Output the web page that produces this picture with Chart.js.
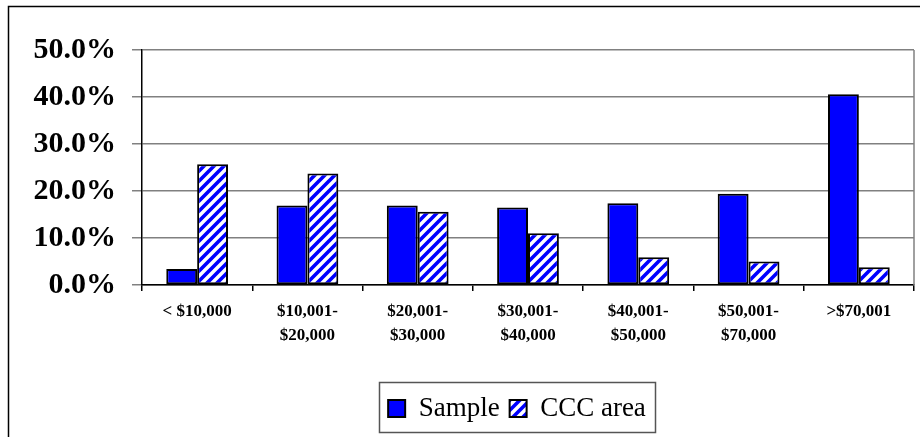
<!DOCTYPE html>
<html>
<head>
<meta charset="utf-8">
<script src="https://cdn.jsdelivr.net/npm/chart.js@4.4.1/dist/chart.umd.min.js"></script>
<style>
  html, body { margin: 0; padding: 0; background: #fff; }
  #wrap { position: relative; width: 920px; height: 437px; }
</style>
</head>
<body>
<div id="wrap"><canvas id="chart"></canvas></div>
<script>
// Income brackets (x axis)
const categories = [
    '< $10,000',
    ['$10,001-', '$20,000'],
    ['$20,001-', '$30,000'],
    ['$30,001-', '$40,000'],
    ['$40,001-', '$50,000'],
    ['$50,001-', '$70,000'],
    '>$70,001'
];
const sampleValues = [3.4, 16.9, 16.9, 16.5, 17.4, 19.4, 40.6];
const cccValues = [25.7, 23.7, 15.6, 11.0, 5.9, 5.0, 3.8];
const seriesNames = ['Sample', 'CCC area'];
const yTicks = [0, 10, 20, 30, 40, 50];

Chart.defaults.font.family = '"Liberation Serif", "Times New Roman", serif';
Chart.defaults.color = '#000';

// diagonal blue hatch for the CCC series
function makeHatch() {
    const n = 10;
    const c = document.createElement('canvas');
    c.width = n; c.height = n;
    const g = c.getContext('2d');
    g.fillStyle = '#fff';
    g.fillRect(0, 0, n, n);
    g.strokeStyle = '#0000ff';
    g.lineWidth = 3.6;
    g.beginPath();
    g.moveTo(-n / 2, n / 2); g.lineTo(n / 2, -n / 2);
    g.moveTo(0, n); g.lineTo(n, 0);
    g.moveTo(n / 2, n * 1.5); g.lineTo(n * 1.5, n / 2);
    g.stroke();
    return g.createPattern(c, 'repeat');
}

const legendShift = 11;

// outer frame, right edge of plot, box around legend
const framePlugin = {
    id: 'frame',
    afterLayout(chart) {
        // legend sits a little left of the plot centre in the original
        const lg = chart.legend;
        lg.left -= legendShift;
        lg.right -= legendShift;
        (lg.legendHitBoxes || []).forEach(h => { h.left -= legendShift; });
    },
    beforeDraw(chart) {
        const ctx = chart.ctx;
        ctx.save();
        ctx.fillStyle = '#fff';
        ctx.fillRect(0, 0, chart.width, chart.height);
        ctx.strokeStyle = '#000';
        ctx.lineWidth = 1.5;
        ctx.beginPath();
        ctx.moveTo(8.5, chart.height);
        ctx.lineTo(8.5, 6.5);
        ctx.lineTo(chart.width, 6.5);
        ctx.stroke();
        ctx.restore();
    },
    afterDraw(chart) {
        const ctx = chart.ctx;
        const a = chart.chartArea;
        ctx.save();
        ctx.strokeStyle = '#808080';
        ctx.lineWidth = 1.5;
        ctx.beginPath();
        ctx.moveTo(a.right, a.top);
        ctx.lineTo(a.right, a.bottom);
        ctx.stroke();

        const hb = chart.legend.legendHitBoxes;
        if (hb && hb.length) {
            const first = hb[0], last = hb[hb.length - 1];
            const l = Math.round(first.left - 9) + 0.5;
            const r = Math.round(last.left + last.width + 9) + 0.5;
            const t = Math.round(first.top - 13) + 0.5;
            const b = Math.round(first.top + 37) + 0.5;
            ctx.strokeStyle = '#555';
            ctx.lineWidth = 1.5;
            ctx.strokeRect(l, t, r - l, b - t);
        }
        ctx.restore();
    }
};

const ctx = document.getElementById('chart').getContext('2d');
new Chart(ctx, {
    type: 'bar',
    data: {
        labels: categories,
        datasets: [{
            label: seriesNames[0],
            data: sampleValues,
            backgroundColor: '#0000ff',
            borderColor: '#000',
            borderWidth: 2,
            borderSkipped: false
        }, {
            label: seriesNames[1],
            data: cccValues,
            backgroundColor: makeHatch(),
            borderColor: '#000',
            borderWidth: 2,
            borderSkipped: false
        }]
    },
    options: {
        responsive: true,
        maintainAspectRatio: false,
        animation: false,
        categoryPercentage: 0.56,
        barPercentage: 1.0,
        layout: { padding: { top: 50, left: 0, right: 6, bottom: 5 } },
        plugins: {
            tooltip: { enabled: false },
            legend: {
                position: 'bottom',
                fullSize: false,
                labels: {
                    boxWidth: 17,
                    boxHeight: 17,
                    padding: 10,
                    font: { size: 27 },
                    color: '#000'
                }
            }
        },
        scales: {
            x: {
                grid: {
                    display: true,
                    drawOnChartArea: false,
                    drawTicks: true,
                    tickLength: 6,
                    color: '#000',
                    lineWidth: 1.5
                },
                border: { color: '#000', width: 1.5 },
                ticks: {
                    autoSkip: false,
                    maxRotation: 0,
                    padding: 8,
                    font: { size: 17, weight: 'bold', lineHeight: 1.45 },
                    color: '#000'
                },
                afterFit(scale) { scale.height = 100; }
            },
            y: {
                min: 0,
                max: 50,
                afterBuildTicks(scale) {
                    scale.ticks = yTicks.map(v => ({ value: v }));
                },
                grid: {
                    color: '#808080',
                    lineWidth: 1.5,
                    tickLength: 10
                },
                border: { color: '#000', width: 1.5 },
                ticks: {
                    padding: 16,
                    font: { size: 30, weight: 'bold' },
                    color: '#000',
                    callback: v => v.toFixed(1) + '%'
                },
                afterFit(scale) { scale.width = 142; }
            }
        }
    },
    plugins: [framePlugin]
});
</script>
</body>
</html>
